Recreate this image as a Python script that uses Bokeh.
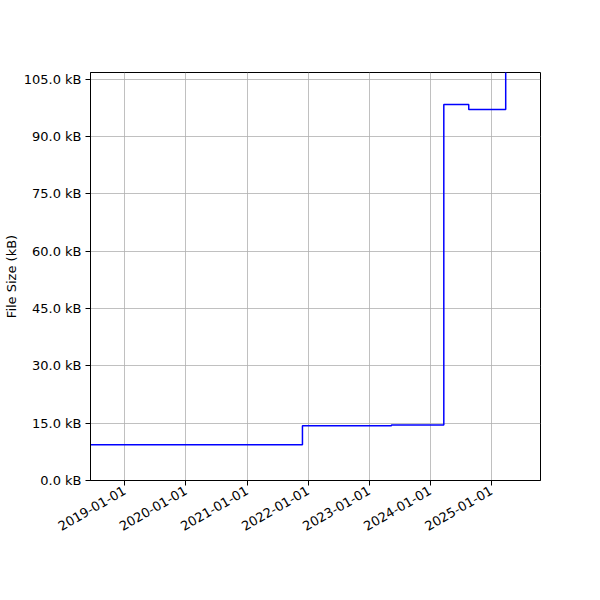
import datetime as dt
from bokeh.plotting import figure
from bokeh.models import FixedTicker, PrintfTickFormatter, DatetimeTickFormatter, Range1d
from bokeh.embed import file_html
from bokeh.resources import INLINE
import math

# Data: file size history (kB), step changes
dates = ["2018-06-10", "2021-11-28", "2023-05-14", "2024-03-22", "2024-08-18", "2025-03-27", "2025-10-21"]
sizes = [9.35, 14.3, 14.5, 98.4, 97.1, 130.0, 130.0]
y_ticks = [0, 15, 30, 45, 60, 75, 90, 105]
x_tick_labels = ["2019-01-01", "2020-01-01", "2021-01-01", "2022-01-01", "2023-01-01", "2024-01-01", "2025-01-01"]

def ms(s):
    d = dt.datetime.strptime(s, "%Y-%m-%d").replace(tzinfo=dt.timezone.utc)
    return d.timestamp() * 1000.0

xs = [ms(d) for d in dates]
xt = [ms(d) for d in x_tick_labels]

p = figure(width=600, height=600, output_backend="svg", toolbar_location=None,
           x_axis_type="datetime",
           x_range=Range1d(xs[0], xs[-1]), y_range=Range1d(0, 106.8),
           min_border_left=90, min_border_right=60, min_border_top=72, min_border_bottom=120)

p.step(xs, sizes, mode="after", line_color="blue", line_width=1.5)

p.xaxis.ticker = FixedTicker(ticks=xt)
p.xaxis.formatter = DatetimeTickFormatter(days="%Y-%m-%d", months="%Y-%m-%d", years="%Y-%m-%d")
p.xaxis.major_label_orientation = math.pi / 6
p.yaxis.ticker = FixedTicker(ticks=y_ticks)
p.yaxis.formatter = PrintfTickFormatter(format="%.1f kB")
p.yaxis.axis_label = "File Size (kB)"
p.yaxis.axis_label_text_font_style = "normal"
p.yaxis.axis_label_text_font_size = "13px"
p.yaxis.axis_label_text_font = "DejaVu Sans"
p.yaxis.axis_label_text_color = "black"
p.yaxis.axis_label_standoff = 2

for ax in (p.xaxis, p.yaxis):
    ax.major_label_text_font = "DejaVu Sans"
    ax.major_label_text_font_size = "13px"
    ax.major_label_text_color = "black"
    ax.axis_line_color = "black"
    ax.major_tick_line_color = "black"
    ax.major_tick_out = 5
    ax.major_tick_in = 0
    ax.minor_tick_line_color = None
    ax.major_label_standoff = 4

p.grid.grid_line_color = "#b0b0b0"
p.grid.grid_line_width = 0.8
p.outline_line_color = "black"
p.outline_line_alpha = 1.0
p.background_fill_color = "white"
p.border_fill_color = "white"

open("out.html", "w").write(file_html(p, INLINE))
